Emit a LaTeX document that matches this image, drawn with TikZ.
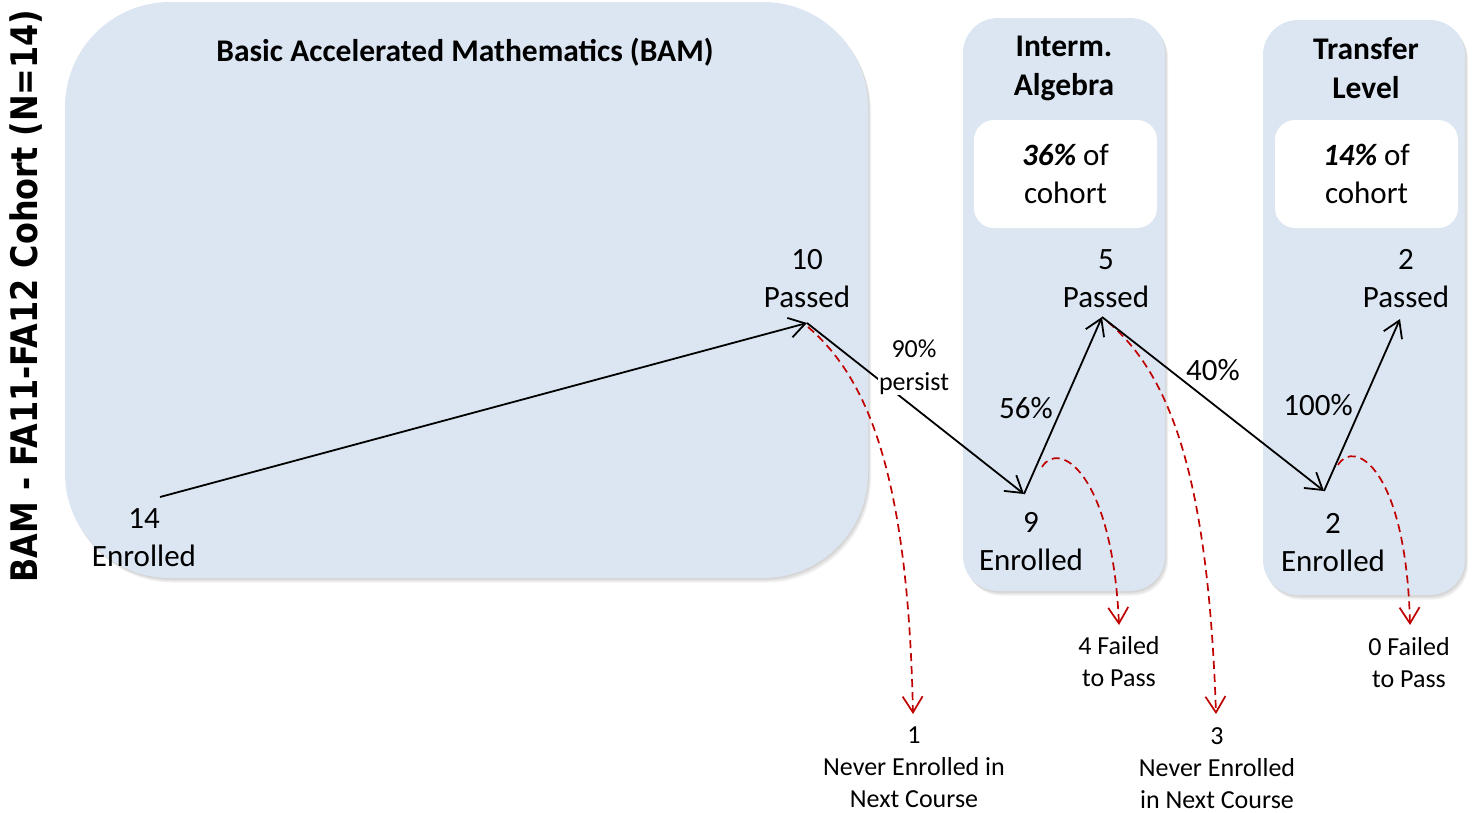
\documentclass[tikz,border=0pt]{standalone}
\usepackage{fontspec}
\setmainfont{Carlito}
\newfontfamily\vtfont[FakeStretch=0.87]{DejaVu Sans}
\usetikzlibrary{arrows.meta,shadows}
\definecolor{boxblue}{RGB}{220,230,242}
\definecolor{dred}{RGB}{192,0,0}
\begin{document}
\begin{tikzpicture}[x=1pt,y=-1pt,
  shad/.style={general shadow={fill=black,opacity=.06,shadow xshift=1pt,shadow yshift=-1.5pt},
               general shadow={fill=black,opacity=.06,shadow xshift=2pt,shadow yshift=-3pt},
               general shadow={fill=black,opacity=.06,shadow xshift=3pt,shadow yshift=-4.5pt}},
  panel/.style={fill=boxblue, rounded corners=#1, inner sep=0pt, shad},
  whitebox/.style={fill=white, rounded corners=20pt, minimum width=183pt, minimum height=108pt,
                   inner sep=0pt, align=center, font=\fontsize{31}{38}\selectfont},
  title/.style={align=center, inner sep=0pt, font=\bfseries\fontsize{31.5}{39}\selectfont},
  lbl/.style={align=center, inner sep=0pt, font=\fontsize{31}{38}\selectfont},
  pct/.style={align=center, inner sep=0pt, font=\fontsize{31}{38}\selectfont},
  outlbl/.style={align=center, inner sep=0pt, font=\fontsize{26}{32}\selectfont},
  flow/.style={draw=black, line width=1.8pt, -{Straight Barb[length=16pt,width=20pt]}},
  drop/.style={draw=dred, line width=1.7pt, dash pattern=on 8pt off 5pt,
               -{Straight Barb[length=16pt,width=20pt]}}
]
\useasboundingbox (0,0) rectangle (1480,812);

% panels
\node[panel=105pt, minimum width=803pt, minimum height=576pt] (bam) at (466.5,290) {};
\node[panel=35pt, minimum width=202pt, minimum height=573pt] (ia) at (1064,304.5) {};
\node[panel=35pt, minimum width=202pt, minimum height=575pt] (tl) at (1364,307.5) {};
\node[whitebox] (iapct) at (1065.5,174) {\textbf{\textit{36\%}} of\\cohort};
\node[whitebox] (tlpct) at (1366.5,174) {\textbf{\textit{14\%}} of\\cohort};

% titles
\node[title] (bamt) at (465,52) {Basic Accelerated Mathematics (BAM)};
\node[title] (iat) at (1064,68) {Interm.\\Algebra};
\node[title] (tlt) at (1366,68) {Transfer\\Level};
\node[rotate=90, inner sep=0pt, font=\vtfont\bfseries\fontsize{36.6}{44}\selectfont] (side) at (26,296) {BAM - FA11-FA12 Cohort (N=14)};

% counts
\node[lbl] (n14) at (144,538) {14\\Enrolled};
\node[lbl] (n10) at (807,279) {10\\Passed};
\node[lbl] (n9) at (1031,542) {9\\Enrolled};
\node[lbl] (n5) at (1106,279) {5\\Passed};
\node[lbl] (n2e) at (1333,543) {2\\Enrolled};
\node[lbl] (n2p) at (1406,279) {2\\Passed};

% outcome labels
\node[outlbl] (o1) at (914,767) {1\\Never Enrolled in\\Next Course};
\node[outlbl] (o4) at (1119,662) {4 Failed\\to Pass};
\node[outlbl] (o3) at (1217,768) {3\\Never Enrolled\\in Next Course};
\node[outlbl] (o0) at (1409,663) {0 Failed\\to Pass};

% coordinates
\coordinate (a14) at (160,497);
\coordinate (a10) at (807,323);
\coordinate (a9) at (1024,494);
\coordinate (a5) at (1102,317);
\coordinate (a2e) at (1324,491);
\coordinate (a2p) at (1400,319);
\coordinate (r10) at (808,327);
\coordinate (r9) at (1042,467);
\coordinate (r5) at (1108,322);
\coordinate (r2) at (1338,465);
\coordinate (t1) at (913,714);
\coordinate (t4) at (1119,625);
\coordinate (t3) at (1216,714);
\coordinate (t0) at (1410,625);

% red dashed
\draw[drop] (r10) .. controls (870,380) and (908,480) .. (t1);
\draw[drop] (r9) .. controls (1058,440) and (1112,470) .. (t4);
\draw[drop] (r5) .. controls (1170,375) and (1208,475) .. (t3);
\draw[drop] (r2) .. controls (1354,438) and (1406,468) .. (t0);

% black flow
\draw[flow] (a14) -- (a10);
\draw[flow] (a10) -- (a9);
\draw[flow] (a9) -- (a5);
\draw[flow] (a5) -- (a2e);
\draw[flow] (a2e) -- (a2p);

% percentages
\node[pct, fill=white, inner sep=1pt, font=\fontsize{26}{33}\selectfont] (p90) at (914,367) {90\%\\persist};
\node[pct] (p56) at (1026,408) {56\%};
\node[pct] (p40) at (1213,370) {40\%};
\node[pct] (p100) at (1318,405) {100\%};
\end{tikzpicture}
\end{document}
